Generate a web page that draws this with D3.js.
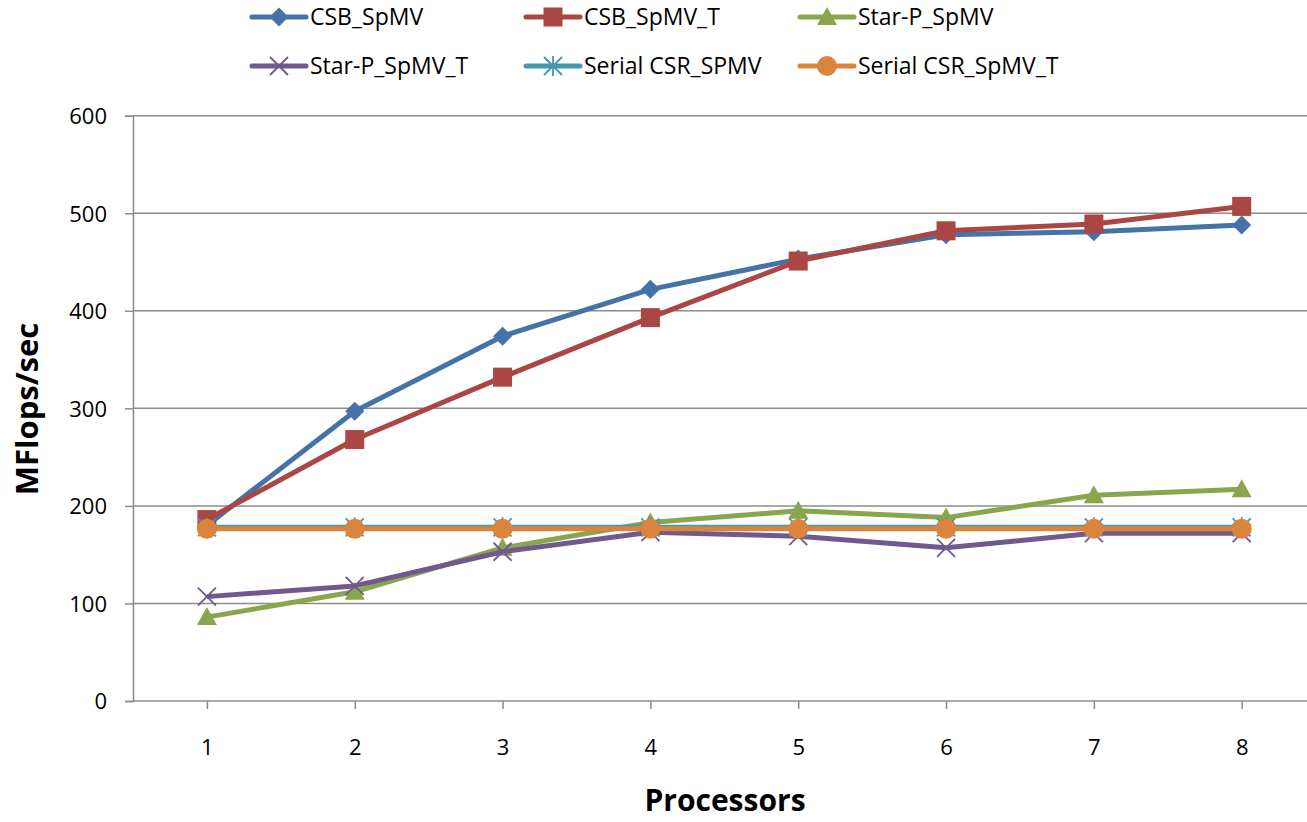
<!DOCTYPE html>
<html>
<head>
<meta charset="utf-8">
<script src="https://cdnjs.cloudflare.com/ajax/libs/d3/7.8.5/d3.min.js"></script>
<style>
  body { margin: 0; background: #fff; }
  text { font-family: "Open Sans", "Liberation Sans", sans-serif; fill: #000; }
</style>
</head>
<body>
<div class="chart"></div>
<script>
// DATA ------------------------------
const processors = [1, 2, 3, 4, 5, 6, 7, 8];
const yTicks = [0, 100, 200, 300, 400, 500, 600];

const csbSpmv      = [180, 297, 374, 422, 453, 478, 481, 488];
const csbSpmvT     = [186, 268, 332, 393, 451, 482, 489, 507];
const starPSpmv    = [86, 112, 157, 183, 195, 188, 211, 217];
const starPSpmvT   = [107, 118, 153, 173, 169, 157, 172, 172];
const serialCsr    = [178, 178, 178, 178, 178, 178, 178, 178];
const serialCsrT   = [176.5, 176.5, 176.5, 176.5, 176.5, 176.5, 176.5, 176.5];

const seriesNames = ["CSB_SpMV", "CSB_SpMV_T", "Star-P_SpMV",
                     "Star-P_SpMV_T", "Serial CSR_SPMV", "Serial CSR_SpMV_T"];

// CHART INIT ------------------------------
const W = 1307, H = 822;
const margin = ({left: 133, right: 1315.6, top: 115.7, bottom: 701});

const svg = d3.select(".chart").append("svg")
    .attr("width", W)
    .attr("height", H);

const xScale = d3.scalePoint()
    .domain(processors)
    .range([margin.left, margin.right])
    .padding(0.5);

const yScale = d3.scaleLinear()
    .domain([0, 600])
    .range([margin.bottom, margin.top]);

// gridlines
svg.append("g")
    .selectAll("line")
    .data(yTicks.filter(d => d > 0))
    .join("line")
    .attr("x1", margin.left).attr("x2", margin.right)
    .attr("y1", d => yScale(d)).attr("y2", d => yScale(d))
    .attr("stroke", "#8c8c8c")
    .attr("stroke-width", 1.5);

// y axis
const yAxis = svg.append("g")
    .attr("transform", "translate(" + margin.left + ",0)")
    .call(d3.axisLeft(yScale).tickValues(yTicks).tickSize(8).tickPadding(18));
yAxis.select(".domain").attr("stroke", "#8c8c8c").attr("stroke-width", 1.5);
yAxis.selectAll(".tick line").attr("stroke", "#8c8c8c").attr("stroke-width", 1.5);
yAxis.selectAll("text").style("font-size", "22px").style("font-family", "Open Sans").attr("dy", "0.36em");

// x axis
const xAxis = svg.append("g")
    .attr("transform", "translate(0," + margin.bottom + ")")
    .call(d3.axisBottom(xScale).tickSizeInner(8).tickSizeOuter(0).tickPadding(30));
xAxis.select(".domain").attr("d", "M" + margin.left + ",0H" + margin.right)
    .attr("stroke", "#8c8c8c").attr("stroke-width", 1.5);
xAxis.selectAll(".tick line").attr("stroke", "#8c8c8c").attr("stroke-width", 1.5);
xAxis.selectAll("text").style("font-size", "22px").style("font-family", "Open Sans");

// axis titles
svg.append("text")
    .attr("transform", "translate(38,409) rotate(-90)")
    .attr("text-anchor", "middle")
    .style("font-size", "31px")
    .style("font-weight", "bold")
    .text("MFlops/sec");

svg.append("text")
    .attr("x", 725).attr("y", 811)
    .attr("text-anchor", "middle")
    .style("font-size", "30px")
    .style("font-weight", "bold")
    .text("Processors");

// SERIES ---------------------------
const colors = ["#4572A7", "#AA4643", "#89A54E", "#71588F", "#4198AF", "#DB843D"];
const values = [csbSpmv, csbSpmvT, starPSpmv, starPSpmvT, serialCsr, serialCsrT];
const shapes = ["diamond", "square", "triangle", "x", "star", "circle"];

function marker(g, shape, color) {
    if (shape === "diamond") {
        g.append("path").attr("d", "M0,-9.5L9.5,0L0,9.5L-9.5,0Z").attr("fill", color);
    } else if (shape === "square") {
        g.append("rect").attr("x", -9.5).attr("y", -9.5).attr("width", 19).attr("height", 19).attr("fill", color);
    } else if (shape === "triangle") {
        g.append("path").attr("d", "M0,-10L10,8L-10,8Z").attr("fill", color);
    } else if (shape === "x") {
        g.append("path").attr("d", "M-9,-9L9,9M-9,9L9,-9").attr("stroke", color).attr("stroke-width", 1.8);
    } else if (shape === "star") {
        g.append("path").attr("d", "M-9,-9L9,9M-9,9L9,-9M0,-10V10").attr("stroke", color).attr("stroke-width", 1.8);
    } else if (shape === "circle") {
        g.append("circle").attr("r", 10).attr("fill", color);
    }
}

const line = d3.line()
    .x((d, i) => xScale(processors[i]))
    .y(d => yScale(d));

values.forEach((vals, k) => {
    const g = svg.append("g").attr("class", "series");
    g.append("path")
        .datum(vals)
        .attr("d", line)
        .attr("fill", "none")
        .attr("stroke", colors[k])
        .attr("stroke-width", 5)
        .attr("stroke-linejoin", "round");
    g.selectAll(".pt")
        .data(vals)
        .join("g")
        .attr("class", "pt")
        .attr("transform", (d, i) => "translate(" + xScale(processors[i]) + "," + yScale(d) + ")")
        .each(function () { marker(d3.select(this), shapes[k], colors[k]); });
});

// LEGEND ---------------------------
const legX = [310, 584, 858];   // text start of each column
const legY = [17, 66];
seriesNames.forEach((name, k) => {
    const lx = legX[k % 3], ly = legY[Math.floor(k / 3)];
    const g = svg.append("g").attr("transform", "translate(" + lx + "," + ly + ")");
    g.append("line").attr("x1", -58).attr("x2", -4).attr("y1", 0).attr("y2", 0)
        .attr("stroke", colors[k]).attr("stroke-width", 5).attr("stroke-linecap", "round");
    const m = g.append("g").attr("transform", "translate(-31,0)");
    marker(m, shapes[k], colors[k]);
    g.append("text").attr("x", 0).attr("y", 0).attr("dy", "0.36em")
        .style("font-size", "23px")
        .text(name);
});
</script>
</body>
</html>
